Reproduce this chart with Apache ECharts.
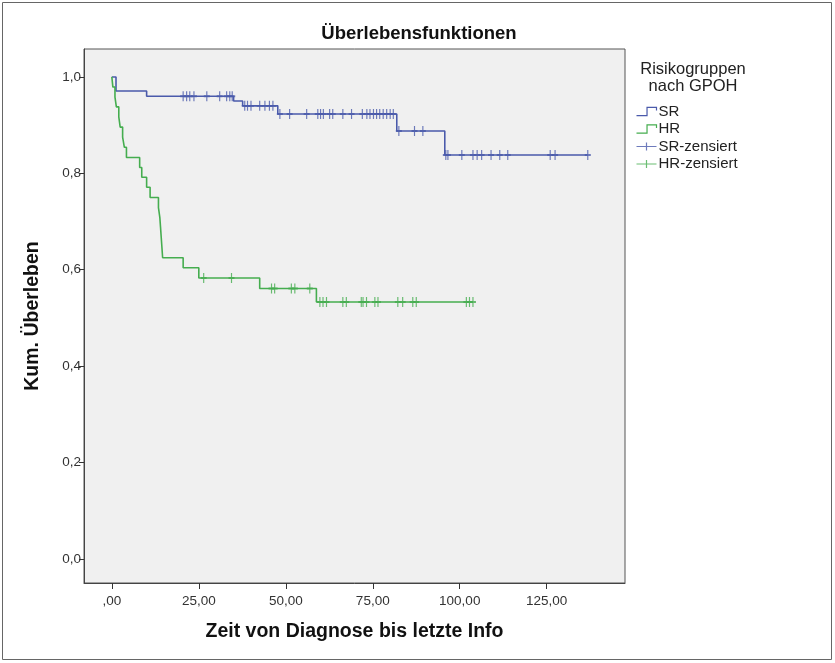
<!DOCTYPE html>
<html>
<head>
<meta charset="utf-8">
<script src="https://cdn.jsdelivr.net/npm/echarts@6/dist/echarts.min.js"></script>
<style>
  html, body { margin: 0; padding: 0; background: #fff; }
  #chart { width: 835px; height: 663px; }
</style>
</head>
<body>
<div id="chart"></div>
<script>
// Kaplan-Meier steps
var srTime = [0, 1.2, 10.0, 35.0, 37.6, 47.7, 81.9, 95.7, 136.8];
var srSurv = [1.0, 0.971, 0.96, 0.95, 0.94, 0.923, 0.888, 0.838, 0.838];
var srCensor = [20.5, 21.5, 22.4, 23.6, 27.3, 31.0, 33.0, 33.9, 34.6,
  38.2, 39.0, 40.0, 42.5, 44.0, 45.3, 46.3,
  48.3, 51.1, 56.0, 59.2, 60.0, 60.8, 62.6, 63.5, 66.4, 68.9, 72.0, 73.3, 74.2,
  75.2, 76.1, 77.0, 78.0, 79.0, 80.0, 80.9,
  82.5, 87.0, 89.4,
  96.0, 96.6, 100.6, 103.8, 105.0, 106.3, 109.0, 111.5, 113.8, 126.0, 127.4, 136.8];

var hrTime = [0, 0.3, 0.9, 1.3, 2.0, 2.4, 3.1, 3.6, 4.2, 8.0, 8.6, 10.0, 11.0,
  13.4, 13.8, 14.0, 14.2, 14.4, 14.6, 20.5, 25.0, 42.5, 58.8, 103.8];
var hrSurv = [1.0, 0.979, 0.958, 0.938, 0.917, 0.896, 0.875, 0.854, 0.833, 0.812,
  0.792, 0.771, 0.75, 0.729, 0.708, 0.688, 0.667, 0.646, 0.625, 0.604, 0.583,
  0.561, 0.533, 0.533];
var hrCensor = [26.4, 34.4, 45.9, 46.8, 51.6, 52.6, 56.9, 59.8, 60.7, 61.7, 66.4,
  67.4, 71.7, 72.2, 73.2, 75.6, 76.5, 82.2, 83.6, 86.5, 87.5, 101.9, 102.8, 103.8];

var xTicks = [0, 25, 50, 75, 100, 125];
var xTickLabels = [',00', '25,00', '50,00', '75,00', '100,00', '125,00'];
var yTicks = [0, 0.2, 0.4, 0.6, 0.8, 1.0];
var yTickLabels = ['0,0', '0,2', '0,4', '0,6', '0,8', '1,0'];

var blue = '#4a5aab';
var green = '#45ad4f';
var font = 'Liberation Sans, Arial, sans-serif';

function survAt(times, surv, t) {
  var s = surv[0];
  for (var i = 0; i < times.length; i++) {
    if (times[i] <= t) s = surv[i];
  }
  return s;
}

function label(ticks, labels) {
  return function (v) {
    for (var i = 0; i < ticks.length; i++) {
      if (Math.abs(ticks[i] - v) < 1e-6) return labels[i];
    }
    return '';
  };
}

var stepIcon = 'path://M0,9 L10,9 L10,1 L19,1 L19,4';
var plusIcon = 'path://M0,5 L20,5 M10,1 L10,9';
var censorSymbol = 'path://M0,5 L6,5 M3,0 L3,10';

var chart = echarts.init(document.getElementById('chart'));
chart.setOption({
  animation: false,
  backgroundColor: '#fff',
  title: [{
    text: 'Überlebensfunktionen',
    left: 414,
    top: 19,
    textAlign: 'center',
    textStyle: { fontFamily: font, fontSize: 18.5, fontWeight: 'bold', color: '#111' }
  }, {
    text: 'Risikogruppen\nnach GPOH',
    left: 688,
    top: 56,
    textAlign: 'center',
    textStyle: { fontFamily: font, fontSize: 16.5, fontWeight: 'normal', color: '#222', lineHeight: 17 }
  }],
  legend: {
    orient: 'vertical',
    left: 634,
    top: 104,
    padding: 0,
    itemGap: 2.5,
    itemWidth: 20,
    itemHeight: 10,
    textStyle: { fontFamily: font, fontSize: 15, color: '#222', padding: [0, 0, 0, -3] },
    data: [
      { name: 'SR', icon: stepIcon, itemStyle: { color: 'none', borderColor: blue, borderWidth: 1.2 } },
      { name: 'HR', icon: stepIcon, itemStyle: { color: 'none', borderColor: green, borderWidth: 1.2 } },
      { name: 'SR-zensiert', icon: plusIcon, itemStyle: { color: 'none', borderColor: blue, borderWidth: 1.2 } },
      { name: 'HR-zensiert', icon: plusIcon, itemStyle: { color: 'none', borderColor: green, borderWidth: 1.2 } }
    ]
  },
  grid: {
    left: 84, top: 49, right: 210, bottom: 80,
    show: true,
    backgroundColor: '#f0f0f0',
    borderColor: '#555',
    borderWidth: 1
  },
  xAxis: {
    type: 'value',
    min: -8,
    max: 147.5,
    name: 'Zeit von Diagnose bis letzte Info',
    nameLocation: 'middle',
    nameGap: 39,
    nameTextStyle: { fontFamily: font, fontSize: 19.5, fontWeight: 'bold', color: '#111' },
    axisLine: { show: true, onZero: false, lineStyle: { color: '#444' } },
    axisTick: { show: true, length: 6, customValues: xTicks, lineStyle: { color: '#333' } },
    axisLabel: { customValues: xTicks, formatter: label(xTicks, xTickLabels),
      fontFamily: font, fontSize: 13.5, color: '#333', margin: 11 },
    splitLine: { show: false }
  },
  yAxis: {
    type: 'value',
    min: -0.05,
    max: 1.058,
    name: 'Kum. Überleben',
    nameLocation: 'middle',
    nameGap: 41,
    nameTextStyle: { fontFamily: font, fontSize: 19.5, fontWeight: 'bold', color: '#111' },
    axisLine: { show: true, onZero: false, lineStyle: { color: '#444' } },
    axisTick: { show: true, length: 5, customValues: yTicks, lineStyle: { color: '#333' } },
    axisLabel: { customValues: yTicks, formatter: label(yTicks, yTickLabels),
      fontFamily: font, fontSize: 13.5, color: '#333', margin: 3 },
    splitLine: { show: false }
  },
  graphic: [{
    type: 'rect',
    shape: { x: 2.5, y: 2.5, width: 829, height: 657 },
    style: { fill: 'none', stroke: '#666', lineWidth: 1 },
    silent: true
  }],
  series: [{
    name: 'SR',
    type: 'line',
    step: 'end',
    showSymbol: false,
    lineStyle: { color: blue, width: 1.6 },
    itemStyle: { color: blue },
    data: srTime.map(function (t, i) { return [t, srSurv[i]]; })
  }, {
    name: 'HR',
    type: 'line',
    step: 'end',
    showSymbol: false,
    lineStyle: { color: green, width: 1.6 },
    itemStyle: { color: green },
    data: hrTime.map(function (t, i) { return [t, hrSurv[i]]; })
  }, {
    name: 'SR-zensiert',
    type: 'scatter',
    symbol: censorSymbol,
    symbolSize: [6, 10],
    itemStyle: { color: 'none', borderColor: blue, borderWidth: 1.5 },
    data: srCensor.map(function (t) { return [t, survAt(srTime, srSurv, t)]; })
  }, {
    name: 'HR-zensiert',
    type: 'scatter',
    symbol: censorSymbol,
    symbolSize: [6, 10],
    itemStyle: { color: 'none', borderColor: green, borderWidth: 1.5 },
    data: hrCensor.map(function (t) { return [t, survAt(hrTime, hrSurv, t)]; })
  }]
});
</script>
</body>
</html>
